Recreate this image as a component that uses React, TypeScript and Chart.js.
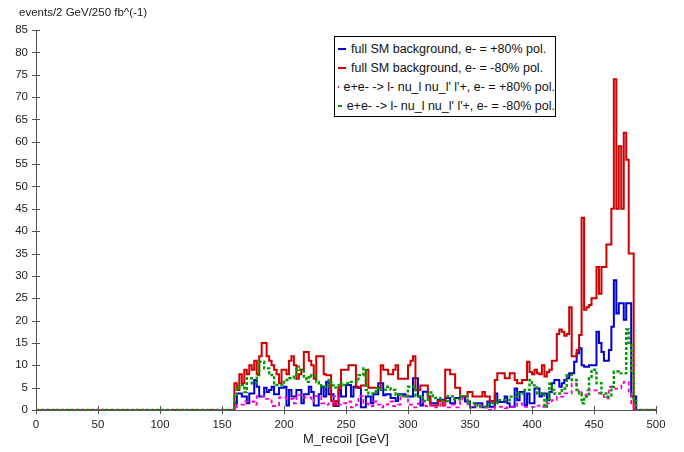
import React, { useEffect, useRef } from "react";
import { Chart, registerables } from "chart.js";

Chart.register(...registerables);

// Histogram: 2 GeV bins, first non-empty bin starts at 160 GeV
const BIN_START = 160;
const BIN_WIDTH = 2;
const X_MIN = 0;
const X_MAX = 500;
const Y_MAX = 85;

const seriesLabels = [
  "full SM background, e- = +80% pol.",
  "full SM background, e- = -80% pol.",
  "e+e- -> l- nu_l nu_l' l'+, e- = +80% pol.",
  "e+e- -> l- nu_l nu_l' l'+, e- = -80% pol.",
];

// full SM background, e- = +80% pol. (blue)
const smPlus80 = [
  1.5, 3.7, 3.7, 3, 3, 1.5, 3.7, 3.7, 6.7, 5.2,
  3, 3, 5, 4, 4.5, 5.2, 3.5, 3.5, 5, 5,
  5.2, 1, 4.5, 3, 3, 4.5, 4.5, 1.5, 3.5, 3.5,
  5.2, 4, 1, 1, 3.5, 5.2, 3, 6.3, 3.5, 3.5,
  0.9, 0.9, 4.5, 3, 3, 5.6, 5.6, 3, 5.2, 5.2,
  4.9, 0.6, 0.6, 3, 3, 1.5, 3.5, 3.5, 6, 6,
  3.3, 3.5, 3.5, 2.7, 2.7, 2, 3.5, 3.5, 3.5, 3,
  3, 3, 7.1, 7.1, 3, 1, 4.1, 4.1, 3, 1.5,
  1.5, 1.5, 2.3, 2.3, 2.3, 2.7, 2.7, 1.5, 1.5, 2.7,
  2.7, 3, 3, 1.9, 1.9, 0.6, 0.6, 1.5, 1.5, 1.5,
  0.6, 0.6, 1.9, 0.7, 0.7, 3.7, 1.8, 1.8, 1.8, 3,
  1.5, 0.7, 0.7, 4.8, 2.2, 4, 4, 1, 3.7, 1.5,
  1.5, 4.8, 4.8, 3, 3.7, 3.7, 2.2, 4, 6, 6.7,
  6.7, 5.2, 6, 6.7, 7.1, 8.2, 8.2, 10.8, 12.7, 13.8,
  10, 9.7, 9.7, 10, 10, 10, 17.5, 15, 13, 11,
  11, 13.4, 18.6, 29, 21.6, 23.9, 23.9, 20.2, 23.9, 23.9,
  3, 3,
];

// full SM background, e- = -80% pol. (red)
const smMinus80 = [
  6, 4.5, 8, 6, 9, 8, 10, 9, 11, 8,
  12, 15, 15, 12, 11, 10, 9, 8, 6, 9,
  9, 8, 11, 12, 10, 7, 8, 9, 13, 13,
  11, 10, 7, 12, 12, 12, 8, 7.8, 7.8, 2,
  1, 2, 5, 9, 9, 9, 10, 10, 10, 5,
  5, 5.5, 5.5, 9, 5, 5, 5, 5, 5, 10,
  9, 9, 8, 8, 9, 10, 7, 7, 7, 7,
  10, 11, 12, 4.5, 4.5, 5.5, 5.5, 5.5, 3, 1,
  1, 1, 2, 2, 1, 9, 9, 8, 8, 5,
  5, 3, 3, 3, 4, 4, 3, 3, 3, 3,
  4, 3, 3, 2, 2, 6.7, 8.2, 8.2, 8.2, 7.1,
  7.1, 8.2, 8.2, 6.7, 6, 6, 6.7, 6.7, 10.8, 8.5,
  8, 9, 8.2, 8, 10, 7.5, 8.5, 9, 11, 11,
  17, 18, 17.5, 16.6, 17, 23, 12, 12, 13.4, 16.8,
  43, 22.4, 23, 23.5, 25, 25, 32, 26, 32, 32,
  37, 37, 45, 74, 45, 59, 45, 62, 56, 35,
  35, 0,
];

// e+e- -> l- nu_l nu_l' l'+, e- = +80% pol. (magenta, dashed)
const sigPlus80 = [
  0.6, 1.2, 1.2, 1.2, 1.9, 1.9, 1.9, 1.9, 1.2, 3.1,
  3.1, 3.1, 2.5, 2.5, 2.5, 0.9, 0.9, 0.9, 2.8, 2.8,
  2.8, 2.5, 2.5, 2.5, 1.5, 3.4, 3.4, 3.4, 2.8, 2.8,
  2.8, 1.9, 3.1, 3.1, 3.1, 1.5, 1.5, 1.2, 1.5, 1.5,
  3.1, 3.1, 1.2, 1.2, 1.5, 1.9, 1.9, 0.6, 0.6, 1.2,
  3.1, 3.1, 1.5, 1.5, 0.9, 0.9, 1.9, 1.9, 1.2, 0.6,
  1.2, 1.2, 1.9, 1.9, 0.9, 0.9, 1.2, 3.1, 3.1, 3.1,
  1.2, 1.2, 0.6, 0.6, 1.5, 1.5, 1.9, 0.9, 0.9, 1.2,
  1.2, 0.6, 0.6, 1.5, 1.5, 0.6, 0.6, 1.2, 1.2, 0.6,
  0.6, 1.9, 3.1, 3.1, 1.2, 0.6, 0.6, 1.2, 1.2, 0.6,
  0.6, 0.6, 0, 0, 0, 0.7, 0.7, 0.7, 0.7, 0.4,
  0.7, 0.7, 0.7, 0.7, 1.5, 1.5, 0.7, 0.7, 0.7, 0.7,
  0.7, 1, 1, 0.7, 0.7, 0.7, 1.5, 1.5, 2.2, 2.2,
  3, 3, 3, 3.7, 3.7, 3.7, 5.9, 5.9, 4.4, 4.4,
  3.3, 3.3, 4.4, 4.4, 4.4, 4.4, 4.4, 3.7, 3.7, 2.6,
  2.6, 5.2, 5.2, 4.8, 4.8, 4.8, 6, 6.3, 6.3, 3.7,
  1.5, 0,
];

// e+e- -> l- nu_l nu_l' l'+, e- = -80% pol. (green, dotted)
const sigMinus80 = [
  3.1, 4.9, 5.6, 5.6, 4, 7.1, 7.1, 6, 6, 7.8,
  10.8, 10.8, 9.3, 9.3, 8.2, 7.8, 6, 5.6, 5.6, 5.6,
  6.7, 6.7, 7.1, 7.1, 7.8, 9.7, 9, 9, 7.1, 6.3,
  7.8, 7.5, 7.5, 6.3, 6, 5.2, 5.2, 5.2, 6.7, 5.5,
  5, 5, 6, 6, 5.6, 6, 6, 6.3, 6.3, 6.3,
  7.8, 7.8, 9.3, 4.5, 3.7, 3.7, 3.7, 4.9, 4.9, 4.5,
  4.5, 5.2, 5.2, 4.5, 4.5, 3.4, 3.4, 3.1, 3.1, 3.1,
  5.2, 5.2, 5.2, 3.1, 3.1, 3.1, 2, 2, 3.9, 3.9,
  2.7, 2.7, 2.7, 2, 2, 2, 3.1, 3.1, 2.4, 2.4,
  2.4, 3.1, 3.1, 3.1, 1.5, 1.5, 1.5, 1.5, 0.8, 0.8,
  0.8, 0.8, 1.2, 1.2, 1.5, 1.5, 2.2, 2.2, 2.2, 2.2,
  2.2, 3, 3, 3, 3.7, 3.7, 3.7, 4.5, 4.5, 6.7,
  5.5, 5.5, 3.7, 3.7, 3.7, 0.7, 2.2, 5.9, 4.5, 3.7,
  3.7, 3.7, 4.8, 4.8, 7.8, 7.8, 6.7, 6.7, 4.5, 3.7,
  1.5, 3, 3, 7.1, 9, 9, 6, 6, 3.7, 3.7,
  3, 3, 5.2, 8.6, 8.6, 8.2, 8.2, 8.2, 18, 15,
  8.2, 2,
];

const seriesColors = ["#0000d0", "#d00000", "#ff00cc", "#009a00"];
const FONT = "'Liberation Sans', Arial, Helvetica, sans-serif";

function histPoints(values: number[]) {
  const pts: { x: number; y: number }[] = [];
  for (let x = X_MIN; x < X_MAX; x += BIN_WIDTH) {
    const i = Math.round((x - BIN_START) / BIN_WIDTH);
    const v = i >= 0 && i < values.length ? values[i] : 0;
    pts.push({ x, y: v });
  }
  pts.push({ x: X_MAX, y: 0 });
  return pts;
}

const crossTicks = {
  id: "crossTicks",
  afterDatasetsDraw(chart: any) {
    const { ctx, scales, chartArea } = chart;
    ctx.save();
    ctx.strokeStyle = "#555";
    ctx.lineWidth = 1;
    ctx.beginPath();
    for (const t of scales.x.ticks) {
      const px = Math.round(scales.x.getPixelForValue(t.value)) + 0.5;
      ctx.moveTo(px, chartArea.bottom - 4);
      ctx.lineTo(px, chartArea.bottom + 4);
    }
    for (const t of scales.y.ticks) {
      const py = Math.round(scales.y.getPixelForValue(t.value)) + 0.5;
      ctx.moveTo(chartArea.left - 4, py);
      ctx.lineTo(chartArea.left + 4, py);
    }
    ctx.stroke();
    ctx.fillStyle = "#222";
    ctx.font = `11.5px ${FONT}`;
    ctx.textAlign = "left";
    ctx.textBaseline = "middle";
    ctx.fillText("events/2 GeV/250 fb^(-1)", 19, 13);
    ctx.restore();
  },
};

function LegendRow({ color, dash, label }: { color: string; dash: string; label: string }) {
  return (
    <div style={{ display: "flex", alignItems: "center", height: 19, whiteSpace: "nowrap" }}>
      <span
        style={{
          display: "inline-block",
          width: 8,
          height: 0,
          borderTop: `2px ${dash} ${color}`,
          marginLeft: 3,
          marginRight: 5,
        }}
      />
      <span>{label}</span>
    </div>
  );
}

export default function App() {
  const ref = useRef<HTMLCanvasElement | null>(null);

  useEffect(() => {
    if (!ref.current) return;
    const dashes = [[], [], [4, 3], [3, 2]];
    const widths = [2, 2, 1.8, 2.4];
    const orders = [4, 3, 2, 1];
    const all = [smPlus80, smMinus80, sigPlus80, sigMinus80];
    const chart = new Chart(ref.current, {
      type: "line",
      data: {
        datasets: all.map((vals, k) => ({
          label: seriesLabels[k],
          data: histPoints(vals),
          borderColor: seriesColors[k],
          backgroundColor: seriesColors[k],
          borderWidth: widths[k],
          borderDash: dashes[k],
          pointRadius: 0,
          fill: false,
          stepped: "before" as const,
          order: orders[k],
        })),
      },
      options: {
        responsive: false,
        animation: false,
        devicePixelRatio: 1,
        events: [],
        layout: { padding: { left: 0, right: 28, top: 30, bottom: 0 } },
        plugins: { legend: { display: false }, tooltip: { enabled: false }, title: { display: false } },
        scales: {
          x: {
            type: "linear",
            min: X_MIN,
            max: X_MAX,
            grid: { display: false, drawTicks: false },
            border: { display: true, color: "#555", width: 1 },
            ticks: { stepSize: 50, padding: 8, color: "#222", font: { family: FONT, size: 11.5 }, maxRotation: 0 },
            title: { display: true, text: "M_recoil [GeV]", color: "#222", font: { family: FONT, size: 13 }, padding: { top: 0, bottom: 5 } },
            afterFit: (s: any) => { s.height = 42; },
          },
          y: {
            type: "linear",
            min: 0,
            max: Y_MAX,
            grid: { display: false, drawTicks: false },
            border: { display: true, color: "#555", width: 1 },
            ticks: { stepSize: 5, padding: 8, color: "#222", font: { family: FONT, size: 11.5 } },
            afterFit: (s: any) => { s.width = 36; },
          },
        },
      },
      plugins: [crossTicks],
    });
    return () => chart.destroy();
  }, []);

  const dashStyles = ["solid", "solid", "dashed", "dotted"];

  return (
    <div style={{ position: "absolute", left: 0, top: 0, width: 684, height: 452, background: "#fff" }}>
      <canvas ref={ref} width={684} height={452} style={{ display: "block" }} />
      <div
        style={{
          position: "absolute",
          left: 334,
          top: 36,
          width: 222,
          height: 81,
          boxSizing: "border-box",
          border: "1px solid #000",
          background: "#fff",
          paddingTop: 2,
          fontFamily: FONT,
          fontSize: 12.5,
          color: "#111",
          overflow: "visible",
        }}
      >
        {seriesLabels.map((l, k) => (
          <LegendRow key={k} color={seriesColors[k]} dash={dashStyles[k]} label={l} />
        ))}
      </div>
    </div>
  );
}
